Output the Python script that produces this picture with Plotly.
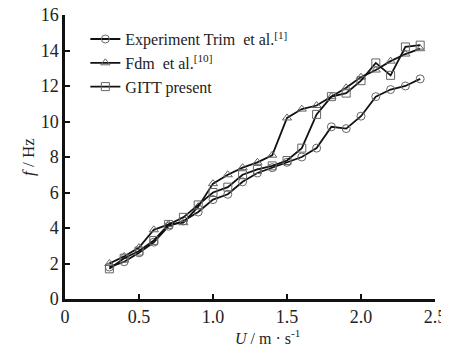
import plotly.graph_objects as go

U = [0.3, 0.4, 0.5, 0.6, 0.7, 0.8, 0.9, 1.0, 1.1, 1.2, 1.3, 1.4, 1.5, 1.6, 1.7, 1.8, 1.9, 2.0, 2.1, 2.2, 2.3, 2.4]
f_exp = [1.8, 2.1, 2.6, 3.2, 4.1, 4.4, 4.9, 5.6, 5.9, 6.6, 7.1, 7.4, 7.7, 8.0, 8.5, 9.7, 9.6, 10.3, 11.4, 11.8, 12.0, 12.4]
f_fdm = [2.0, 2.4, 2.9, 3.9, 4.2, 4.3, 5.2, 6.5, 7.0, 7.4, 7.7, 8.1, 10.2, 10.7, 10.9, 11.4, 11.9, 12.5, 12.9, 13.4, 13.8, 14.1]
f_gitt = [1.7, 2.3, 2.7, 3.3, 4.2, 4.6, 5.3, 6.0, 6.3, 7.0, 7.3, 7.5, 7.8, 8.5, 10.4, 11.4, 11.6, 12.3, 13.3, 12.6, 14.2, 14.3]

x_ticks = [0, 0.5, 1.0, 1.5, 2.0, 2.5]
x_ticktext = ["0", "0.5", "1.0", "1.5", "2.0", "2.5"]
y_ticks = [0, 2, 4, 6, 8, 10, 12, 14, 16]

names = ["Experiment Trim  et al.<sup>[1]</sup>", "Fdm  et al.<sup>[10]</sup>", "GITT present"]
symbols = ["circle-open", "triangle-up-open", "square-open"]
series = [f_exp, f_fdm, f_gitt]

FONT = "Liberation Serif, Times New Roman, serif"

fig = go.Figure()
for name, sym, ys in zip(names, symbols, series):
    fig.add_trace(go.Scatter(
        x=U, y=ys, name=name, mode="lines+markers",
        line=dict(color="#111111", width=1.8),
        marker=dict(symbol=sym, size=8, color="#666666", line=dict(width=1, color="#666666")),
    ))

fig.update_layout(
    width=441, height=341,
    margin=dict(l=57, r=14, t=7, b=50, autoexpand=False),
    paper_bgcolor="white", plot_bgcolor="white",
    font=dict(family=FONT, size=18, color="#222222"),
    showlegend=True,
    legend=dict(x=0.055, y=0.975, xanchor="left", yanchor="top",
                bgcolor="rgba(0,0,0,0)", font=dict(family=FONT, size=16),
                tracegroupgap=0, itemwidth=30),
    xaxis=dict(range=[0, 2.5], tickvals=x_ticks, ticktext=x_ticktext,
               ticks="inside", ticklen=5, tickwidth=2, tickcolor="#111",
               tickfont=dict(size=18), ticklabeloverflow="allow",
               showline=True, linecolor="#111", linewidth=2.5, showgrid=False,
               zeroline=False, mirror=False, automargin=False),
    yaxis=dict(range=[0, 16], tickvals=y_ticks,
               ticks="inside", ticklen=5, tickwidth=2, tickcolor="#111",
               tickfont=dict(size=18), ticklabeloverflow="allow",
               showline=True, linecolor="#111", linewidth=2.5, showgrid=False,
               zeroline=False, mirror=False, automargin=False,
               title=dict(text="<i>f</i> / Hz", standoff=2,
                          font=dict(family=FONT, size=17))),
    annotations=[dict(text="<i>U</i> / m · s<sup>-1</sup>", xref="paper", yref="paper",
                      x=0.546, y=-0.09, xanchor="center", yanchor="top", showarrow=False,
                      font=dict(family=FONT, size=16, color="#222222"))],
)

fig.write_html("out.html")
